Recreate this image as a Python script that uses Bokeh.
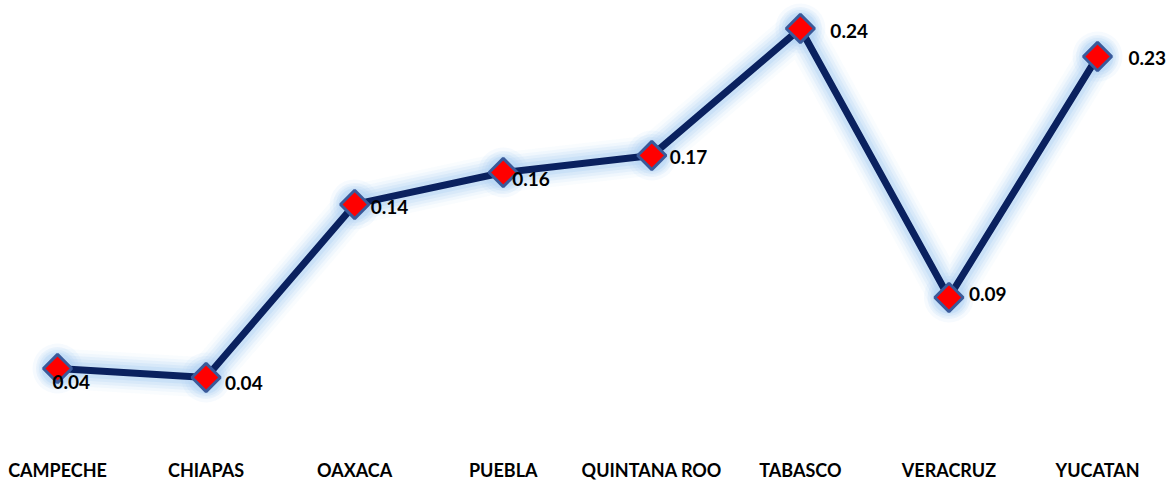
import numpy as np
from bokeh.plotting import figure
from bokeh.models import Range1d, FixedTicker, ColumnDataSource
from bokeh.core.properties import value
from bokeh.embed import file_html
from bokeh.resources import INLINE

# ---- data ----
states = ["CAMPECHE", "CHIAPAS", "OAXACA", "PUEBLA", "QUINTANA ROO", "TABASCO", "VERACRUZ", "YUCATAN"]
values = [0.044, 0.0387, 0.1405, 0.1593, 0.1693, 0.244, 0.0858, 0.2275]

# label placement (screen px offsets, layout only)
label_dx = [-5, 19, 16, 9, 18, 30, 20, 31]
label_dy = [14, 5, 3, 7, 2, 3, -3, 1]

xs = list(range(len(states)))
labels = ["%.2f" % v for v in values]

src = ColumnDataSource(dict(x=xs, y=values, t=labels, dx=label_dx, dy=label_dy))

p = figure(frame_width=1167, frame_height=442, output_backend="svg",
           toolbar_location=None, min_border=0,
           x_range=Range1d(-0.3837, 7.471), y_range=Range1d(0.00047, 0.26047))
p.outline_line_color = None
p.grid.visible = False
p.yaxis.visible = False
p.background_fill_color = "white"
p.border_fill_color = "white"

ax = p.xaxis[0]
ax.ticker = FixedTicker(ticks=xs)
ax.major_label_overrides = {i: s for i, s in enumerate(states)}
ax.axis_line_color = None
ax.major_tick_line_color = None
ax.minor_tick_line_color = None
ax.major_tick_out = 0
ax.major_tick_in = 0
ax.major_label_standoff = 16
ax.major_label_text_font = "Lato"
ax.major_label_text_font_style = "bold"
ax.major_label_text_font_size = "18px"
ax.major_label_text_color = "black"

# glow
glow = "#b4d4f4"
for w, a in [(40, 0.08), (33, 0.12), (27, 0.18), (21, 0.26), (15, 0.38)]:
    p.line("x", "y", source=src, line_width=w, line_color=glow, line_alpha=a,
           line_join="round", line_cap="round")
for s, a in [(50, 0.12), (43, 0.18), (37, 0.26), (32, 0.40)]:
    p.scatter("x", "y", source=src, marker="circle", size=s, fill_color=glow,
              fill_alpha=a, line_color=None)

p.line("x", "y", source=src, line_width=7, line_color="#0a215f", line_join="round")
p.scatter("x", "y", source=src, marker="square", angle=np.pi / 4, size=20,
          fill_color="#ff0000", line_color="#3a5a9a", line_width=3)

p.text("x", "y", text="t", source=src, x_offset="dx", y_offset="dy",
       text_align="left", text_baseline="middle", text_font=value("Lato"),
       text_font_style="bold", text_font_size="19px", text_color="black")

open("out.html", "w").write(file_html(p, INLINE))
